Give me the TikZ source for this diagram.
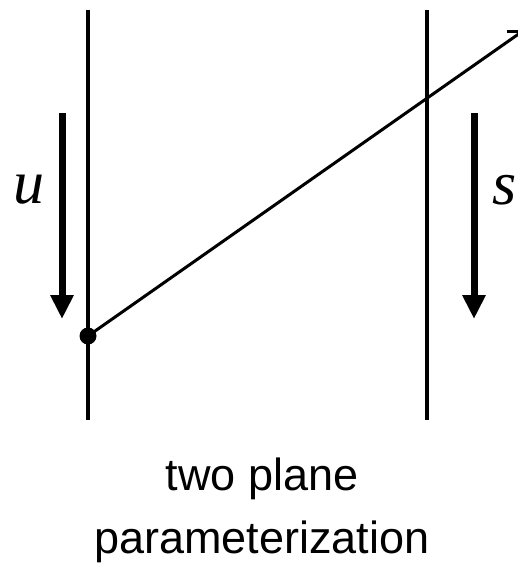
\documentclass[tikz,border=0pt]{standalone}
\usepackage{fontspec}
\setmainfont{Liberation Serif}
\setsansfont{Liberation Sans}
\usetikzlibrary{arrows.meta,positioning}
\tikzset{
  plane/.style    = {line width=4pt},
  ray/.style      = {line width=3pt},
  dirarrow/.style = {line width=7pt, -{Triangle[width=22pt,length=24pt]}},
  hitdot/.style   = {fill, circle, inner sep=0pt, minimum size=17pt},
  axlabel/.style  = {font=\fontsize{62}{62}\selectfont\itshape},
  caption/.style  = {font=\sffamily\fontsize{45}{45}\selectfont, anchor=base},
}

\begin{document}
\begin{tikzpicture}[x=1pt,y=-1pt]
\useasboundingbox (0,0) rectangle (518,565);
% ---------- the two planes ----------
\coordinate (uTop) at (88,10);
\coordinate (uBot) at (88,420);
\coordinate (sTop) at (427,10);
\coordinate (sBot) at (427,420);
\draw[plane] (uTop) -- (uBot);
\draw[plane] (sTop) -- (sBot);
% ---------- ray ----------
\node[hitdot] (hit) at (88,336) {};
\coordinate (rayEnd) at (520,33);
\draw[ray] (hit.center) -- (rayEnd);
\coordinate (tickA) at (507,31);
\coordinate (tickB) at (518,31);
\draw[ray] (tickA) -- (tickB);
% ---------- parameter directions ----------
\coordinate (uFrom) at (62,113);
\coordinate (uTo) at (62,319);
\draw[dirarrow] (uFrom) -- (uTo);
\coordinate (sFrom) at (474,113);
\coordinate (sTo) at (474,319);
\draw[dirarrow] (sFrom) -- (sTo);
\node[axlabel] (uLab) at (29,190) {u};
\node[axlabel] (sLab) at (505,190) {s};
% ---------- caption ----------
\node[caption] (cap1) at (262,490) {two plane};
\node[caption] (cap2) at (262,553) {parameterization};
\end{tikzpicture}
\end{document}
